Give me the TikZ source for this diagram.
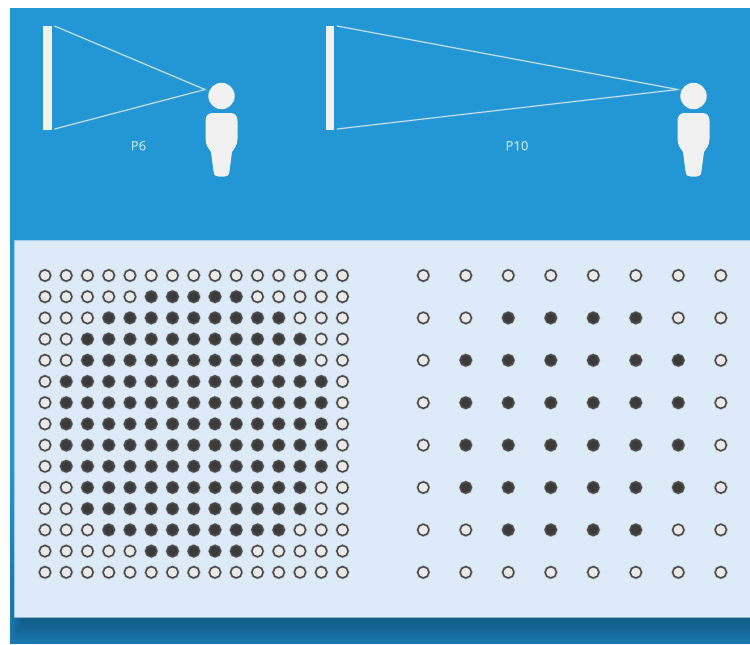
\documentclass[tikz,border=0pt]{standalone}
\usepackage{fontspec}
\setmainfont{Open Sans}
\usetikzlibrary{calc}
\definecolor{skyb}{HTML}{2396D6}
\definecolor{deepb}{HTML}{1A78AE}
\definecolor{shadowb}{HTML}{0F4F76}
\definecolor{panelb}{HTML}{DDEBF8}
\definecolor{paneledge}{HTML}{9CCBEA}
\definecolor{figw}{HTML}{F1F1F1}
\definecolor{capb}{HTML}{BEE1F6}
\definecolor{dotlight}{HTML}{EAEAEA}
\definecolor{dotdark}{HTML}{3B3B3B}
\definecolor{dotrim}{HTML}{4A4A4A}
\tikzset{
  x=0.75pt,y=-0.75pt,
  screenbar/.style={fill=figw,draw=none},
  sight/.style={draw=figw!85!skyb,line width=0.6pt,line cap=round,line join=round,
    preaction={draw=figw,draw opacity=0.3,line width=1.3pt}},
  caption/.style={text=capb,font=\fontsize{9.8}{11}\selectfont\addfontfeature{FakeBold=0.25},inner sep=0pt},
  offdot/.style={circle,draw=dotrim,fill=dotlight,line width=1.1pt,minimum size=8.4pt,inner sep=0pt,
    preaction={draw=dotrim,draw opacity=0.35,line width=2pt}},
  ondot/.style={circle,draw=dotrim,fill=dotdark,line width=1.1pt,minimum size=8.4pt,inner sep=0pt,
    preaction={draw=dotrim,draw opacity=0.35,line width=2pt}},
  persona/.pic={
    \fill[figw] (0,-17) circle[radius=13.2];
    \fill[figw] (-9,0)
      .. controls (-13.5,0) and (-16,3) .. (-16,8)
      -- (-16,26)
      .. controls (-16,33) and (-12,36) .. (-10.5,39)
      -- (-8,58)
      .. controls (-7.5,62.5) and (-6,63.5) .. (-3,63.5)
      -- (3,63.5)
      .. controls (6,63.5) and (7.5,62.5) .. (8,58)
      -- (10.5,39)
      .. controls (12,36) and (16,33) .. (16,26)
      -- (16,8)
      .. controls (16,3) and (13.5,0) .. (9,0) -- cycle;
  }
}
\begin{document}
\begin{tikzpicture}
\useasboundingbox (0,0) rectangle (750,644);
% backdrop
\fill[skyb] (10,8) rectangle (750,644);
\shade[top color=skyb,bottom color=deepb] (10,470) rectangle (14,600);
\fill[deepb] (10,600) rectangle (750,644);
% soft shadow under the panel
\foreach \s in {0,...,9}{
  \fill[shadowb,opacity=0.09] ({12+1.3*\s},600) rectangle (750,{640-2.3*\s});
}
% panel
\fill[panelb] (14,240) rectangle (750,617);
\draw[paneledge,line width=0.75pt] (14,617) -- (14,240) -- (750,240);
\draw[shadowb!35!panelb,line width=0.75pt] (14,617) -- (750,617);
% P6
\fill[screenbar] (43,26) rectangle (51.5,130);
\coordinate (p6a) at (54.5,26);
\coordinate (p6b) at (54.5,129);
\coordinate (p6e) at (205,89.5);
\draw[sight] (p6a) -- (p6e) -- (p6b);
\pic at (221.5,113) {persona};
\node[caption] (p6label) at (138.5,145.7) {P6};
% P10
\fill[screenbar] (325.5,26) rectangle (334,130);
\coordinate (p10a) at (337,26);
\coordinate (p10b) at (337,129);
\coordinate (p10e) at (678,89.5);
\draw[sight] (p10a) -- (p10e) -- (p10b);
\pic at (693.5,113) {persona};
\node[caption] (p10label) at (517,145.7) {P10};
% left matrix
\foreach \row/\a/\b in {0/99/-1,1/5/9,2/3/11,3/2/12,4/2/12,5/1/13,6/1/13,7/1/13,8/1/13,9/1/13,10/2/12,11/2/12,12/3/11,13/5/9,14/99/-1}{
  \foreach \col in {0,...,14}{
    \pgfmathtruncatemacro{\isdark}{(\col>=\a && \col<=\b) ? 1 : 0}
    \pgfmathsetmacro{\px}{45+21.25*\col}
    \pgfmathsetmacro{\py}{275.5+21.2*\row}
    \ifnum\isdark>0\relax
      \node[ondot] (L-\row-\col) at (\px,\py) {};
    \else
      \node[offdot] (L-\row-\col) at (\px,\py) {};
    \fi
  }
}
% right matrix
\foreach \row/\a/\b in {0/99/-1,1/2/5,2/1/6,3/1/6,4/1/6,5/1/6,6/2/5,7/99/-1}{
  \foreach \col in {0,...,7}{
    \pgfmathtruncatemacro{\isdark}{(\col>=\a && \col<=\b) ? 1 : 0}
    \pgfmathsetmacro{\px}{423.3+42.5*\col}
    \pgfmathsetmacro{\py}{275.5+42.4*\row}
    \ifnum\isdark>0\relax
      \node[ondot] (R-\row-\col) at (\px,\py) {};
    \else
      \node[offdot] (R-\row-\col) at (\px,\py) {};
    \fi
  }
}
\end{tikzpicture}
\end{document}
